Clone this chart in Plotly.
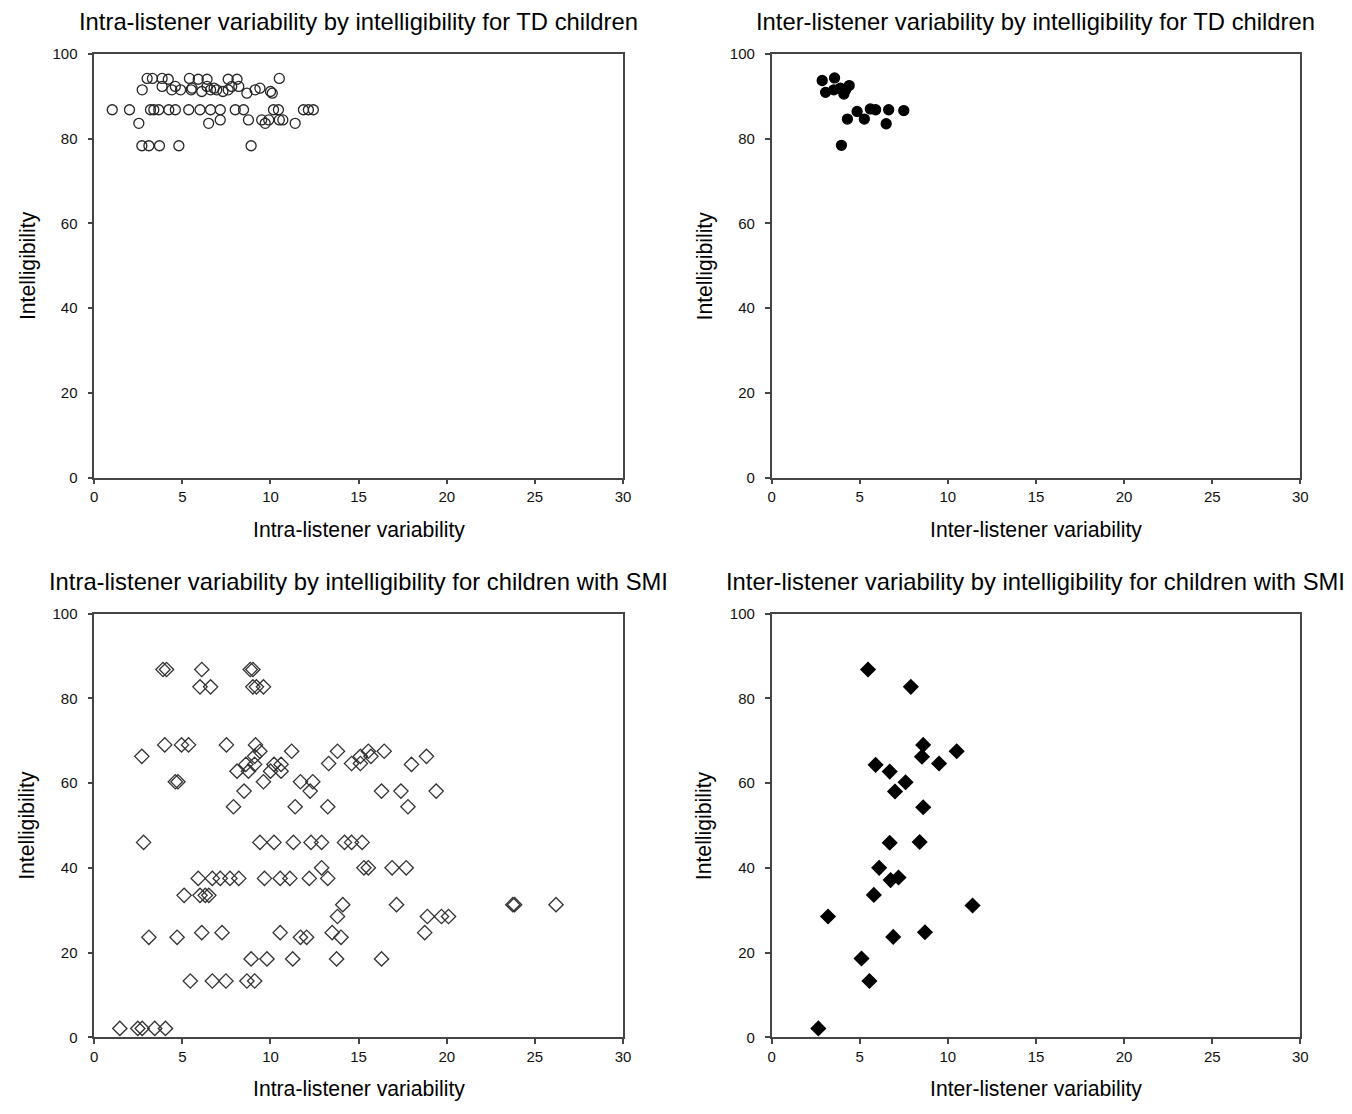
import plotly.graph_objects as go

# The page body keeps an 8px margin, so the figure is 16px smaller than the
# window and every pixel position below is measured from the window's corner.
OFF = 8
W, H = 1352 - 2 * OFF, 1114 - 2 * OFF
FONT = "Liberation Sans"

# ---------------- data ----------------
# TD children, intra-listener variability vs intelligibility
td_intra_x = [3.0, 3.3, 3.85, 4.2, 5.4, 5.9, 6.4, 7.6, 8.1, 10.5,
              2.72, 3.85, 4.4, 4.9, 5.55, 6.1, 6.6, 6.95, 7.6, 8.2, 8.66, 9.13, 9.4, 10.0, 10.1,
              4.6, 5.5, 6.4, 7.8, 7.3, 6.8,
              1.02, 2.0, 3.19, 3.38, 3.66, 4.23, 4.6, 5.36, 6.0, 6.6, 7.15, 8.0, 8.47, 10.17, 10.45, 11.87, 12.15, 12.43,
              2.53, 6.49, 7.15, 8.75, 9.5, 9.7, 9.9, 10.5, 10.7, 11.4,
              2.7, 3.1, 3.7, 4.8, 8.9]
td_intra_y = [94.2, 94.2, 94.2, 94.0, 94.2, 94.0, 94.0, 94.0, 94.0, 94.2,
              91.5, 92.3, 91.5, 91.5, 91.9, 91.1, 91.5, 91.5, 91.5, 92.3, 90.7, 91.5, 91.9, 91.1, 90.7,
              92.3, 91.5, 92.3, 92.3, 91.1, 91.9,
              86.8, 86.8, 86.8, 86.8, 86.8, 86.8, 86.8, 86.8, 86.8, 86.8, 86.8, 86.8, 86.8, 86.8, 86.8, 86.8, 86.8, 86.8,
              83.6, 83.6, 84.4, 84.4, 84.4, 83.6, 84.4, 84.4, 84.4, 83.6,
              78.3, 78.3, 78.3, 78.3, 78.3]

# TD children, inter-listener variability vs intelligibility
td_inter_x = [2.87, 3.57, 3.06, 3.53, 3.9, 4.1, 4.4, 4.2, 4.85, 5.6, 5.9, 6.64, 7.5, 4.3, 5.26, 6.5, 3.96]
td_inter_y = [93.7, 94.3, 90.9, 91.5, 91.9, 90.5, 92.5, 91.5, 86.4, 87.0, 86.8, 86.8, 86.6, 84.6, 84.6, 83.5, 78.4]

# Children with SMI, intra-listener variability vs intelligibility
smi_intra_x = [3.9, 4.1, 6.1, 8.85, 9.0,
               6.0, 6.6, 9.0, 9.2, 9.6,
               4.0, 4.95, 5.35, 7.5, 9.15,
               9.4, 11.2, 13.8, 15.55, 16.45,
               2.7, 9.1, 15.1, 15.7, 18.85,
               8.6, 9.1, 10.2, 10.6, 13.3, 14.6, 15.1, 18.0,
               8.1, 8.75, 10.0, 10.6,
               4.6, 4.75, 9.6, 11.7, 12.4,
               8.5, 12.25, 16.3, 17.4, 19.4,
               7.9, 11.4, 13.25, 17.8,
               2.8, 9.4, 10.2, 11.3, 12.3, 12.9, 14.2, 14.6, 15.2,
               12.9, 15.3, 15.55, 16.9, 17.7,
               5.9, 6.7, 7.15, 7.7, 8.2, 9.66, 10.55, 11.1, 12.2, 13.25,
               5.1, 6.0, 6.3, 6.5,
               14.1, 17.15, 23.75, 23.85, 26.2,
               13.8, 18.9, 19.7, 20.1,
               6.1, 7.25, 10.55, 13.5, 18.75,
               3.1, 4.7, 11.7, 12.05, 14.0,
               8.9, 9.8, 11.26, 13.75, 16.3,
               5.45, 6.7, 7.47, 8.66, 9.1,
               1.45, 2.47, 2.72, 3.43, 4.04]
smi_intra_y = [86.8] * 5 + [82.7] * 5 + [69.0] * 5 + [67.5] * 5 + [66.3] * 5 + \
              [64.4, 64.4, 64.4, 64.4, 64.6, 64.6, 64.6, 64.4] + [62.8] * 4 + [60.3] * 5 + \
              [58.1] * 5 + [54.4] * 4 + [46.0] * 9 + [40.0] * 5 + [37.5] * 10 + [33.5] * 4 + \
              [31.3] * 5 + [28.5] * 4 + [24.7] * 5 + [23.6] * 5 + [18.5] * 5 + [13.3] * 5 + [2.1] * 5

# Children with SMI, inter-listener variability vs intelligibility
smi_inter_x = [5.47, 7.9, 8.6, 8.53, 10.5, 9.5, 5.9, 6.7, 7.6, 7.0, 8.6,
               6.7, 8.4, 6.1, 6.75, 7.2, 5.8, 11.4, 3.2, 6.9, 8.7, 5.1, 5.55, 2.65]
smi_inter_y = [86.8, 82.7, 69.0, 66.2, 67.5, 64.6, 64.3, 62.7, 60.2, 58.0, 54.3,
               45.9, 46.1, 40.0, 37.1, 37.7, 33.6, 31.1, 28.5, 23.7, 24.8, 18.6, 13.3, 2.1]

x_ticks = [0, 5, 10, 15, 20, 25, 30]
y_ticks = [0, 20, 40, 60, 80, 100]

titles = ["Intra-listener variability by intelligibility for TD children",
          "Inter-listener variability by intelligibility for TD children",
          "Intra-listener variability by intelligibility for children with SMI",
          "Inter-listener variability by intelligibility for children with SMI"]
x_titles = ["Intra-listener variability", "Inter-listener variability",
            "Intra-listener variability", "Inter-listener variability"]
y_title = "Intelligibility"

# ---------------- layout ----------------
# plot-area boxes as seen in the target picture: (left, right, top, bottom)
boxes = [(92, 622, 54, 478), (771, 1301, 54, 478),
         (92, 622, 614, 1038), (771, 1301, 614, 1038)]

series = [(td_intra_x, td_intra_y, "circle-open", "#262626", 10),
          (td_inter_x, td_inter_y, "circle", "#000000", 10),
          (smi_intra_x, smi_intra_y, "diamond-open", "#333333", 11),
          (smi_inter_x, smi_inter_y, "diamond", "#000000", 11)]

# empirical correction between requested and photographed positions
KX, BX = 0.9934, 1.6
KY, BY = 0.985, 9.3


def fx(px):
    t = (px - BX) / KX
    return (t - OFF) / W


def fy(py):
    t = (py - BY) / KY
    return (H - (t - OFF)) / H


fig = go.Figure()
annotations = []
AX = "#454545"

for i, ((l, r, t, b), (xs, ys, sym, col, sz)) in enumerate(zip(boxes, series)):
    n = "" if i == 0 else str(i + 1)
    fig.add_trace(go.Scatter(
        x=xs, y=ys, mode="markers", xaxis="x" + n, yaxis="y" + n,
        marker=dict(symbol=sym, color=col, size=sz,
                    line=dict(color=col, width=1.3)),
        showlegend=False, cliponaxis=False))
    common = dict(showline=True, linecolor=AX, linewidth=1.5, mirror=True,
                  ticks="outside", ticklen=5, tickcolor=AX, tickwidth=1.5,
                  showgrid=False, zeroline=False,
                  tickfont=dict(family=FONT, size=15, color="#111111"))
    fig.update_layout(**{
        "xaxis" + n: dict(domain=[fx(l), fx(r)], anchor="y" + n, range=[0, 30],
                          tickvals=x_ticks, **common),
        "yaxis" + n: dict(domain=[fy(b), fy(t)], anchor="x" + n,
                          range=[0, 100], tickvals=y_ticks, ticklabelstandoff=7, **common),
    })
    cx = (l + r) / 2
    annotations.append(dict(text=titles[i], x=fx(cx), y=fy(t - 32),
                            xref="paper", yref="paper", showarrow=False,
                            xanchor="center", yanchor="middle",
                            font=dict(family=FONT, size=23.8, color="#000000")))
    annotations.append(dict(text=x_titles[i], x=fx(cx), y=fy(b + 52),
                            xref="paper", yref="paper", showarrow=False,
                            xanchor="center", yanchor="middle",
                            font=dict(family=FONT, size=21.2, color="#000000")))
    annotations.append(dict(text=y_title, x=fx(l - 67), y=fy((t + b) / 2),
                            xref="paper", yref="paper", showarrow=False, textangle=-90,
                            xanchor="center", yanchor="middle",
                            font=dict(family=FONT, size=21.2, color="#000000")))

fig.update_layout(width=W, height=H, margin=dict(l=0, r=0, t=0, b=0),
                  paper_bgcolor="white", plot_bgcolor="white",
                  annotations=annotations, font=dict(family=FONT))

fig.write_html("out.html", config={"displayModeBar": False})
